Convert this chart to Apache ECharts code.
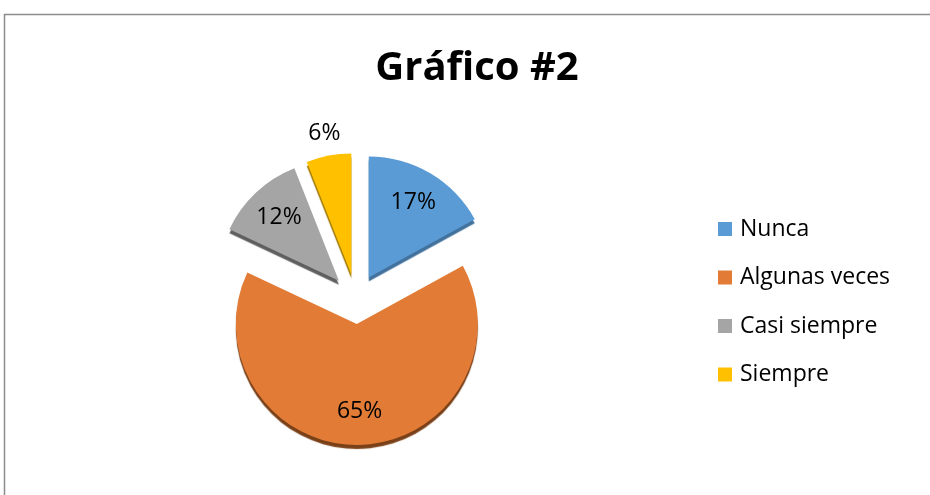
<!DOCTYPE html>
<html>
<head>
<meta charset="utf-8">
<script src="https://cdn.jsdelivr.net/npm/echarts@6/dist/echarts.min.js"></script>
<style>
  html, body { margin: 0; padding: 0; background: #fff; }
  #main { width: 930px; height: 495px; }
</style>
</head>
<body>
<div id="main"></div>
<script>
// datos del gráfico
const categorias = ["Nunca", "Algunas veces", "Casi siempre", "Siempre"];
const valores = [17, 65, 12, 6];
const colores = ["#5B9BD5", "#E27B36", "#A5A5A5", "#FFC000"];
const sombras = ["#41719C", "#7A4018", "#5F5F5F", "#A07800"];
const tituloTexto = "Gráfico #2";

const centro = [356, 299];
const radio = 121;
const desplazamiento = 25;

let myChart = echarts.init(document.getElementById("main"));

let datosPie = categorias.map((c, i) => ({
  name: c,
  value: valores[i],
  selected: true,
  itemStyle: {
    color: colores[i],
    shadowColor: sombras[i],
    shadowOffsetY: 4,
    shadowBlur: 1
  }
}));

// capa transparente solo para las etiquetas interiores
let datosEtiquetas = categorias.map((c, i) => ({
  name: c,
  value: valores[i],
  selected: true,
  label: { show: i !== 3 }
}));

// otra capa para la etiqueta de "Siempre", que va afuera
let datosEtiquetaFuera = categorias.map((c, i) => ({
  name: c,
  value: valores[i],
  selected: true,
  label: { show: i === 3 }
}));

const estiloEtiqueta = {
  position: "inside",
  formatter: "{d}%",
  fontFamily: "Open Sans",
  fontSize: 23,
  color: "#000"
};

myChart.setOption({
  animation: false,
  color: colores,
  title: {
    text: tituloTexto,
    left: 472,
    top: 44,
    textAlign: "center",
    textStyle: {
      fontFamily: "Open Sans",
      fontWeight: "bold",
      fontSize: 40,
      color: "#000"
    }
  },
  legend: {
    orient: "vertical",
    left: 713,
    top: 212,
    itemWidth: 14,
    itemHeight: 14,
    itemGap: 24.5,
    icon: "rect",
    selectedMode: false,
    data: categorias,
    textStyle: {
      fontFamily: "Open Sans",
      fontSize: 23,
      lineHeight: 24,
      color: "#000",
      padding: [0, 0, 0, 3]
    }
  },
  graphic: [
    {
      type: "rect",
      shape: { x: 4.5, y: 14.5, width: 940, height: 500 },
      style: { fill: "none", stroke: "#8C8C8C", lineWidth: 1.5 },
      silent: true
    }
  ],
  series: [
    {
      type: "pie",
      center: centro,
      radius: [0, radio],
      startAngle: 90,
      clockwise: true,
      selectedMode: "multiple",
      selectedOffset: desplazamiento,
      label: { show: false },
      labelLine: { show: false },
      emphasis: { disabled: true },
      data: datosPie
    },
    {
      type: "pie",
      center: centro,
      radius: [50, radio - 2],
      startAngle: 90,
      clockwise: true,
      selectedMode: "multiple",
      selectedOffset: desplazamiento,
      silent: true,
      itemStyle: { color: "rgba(0,0,0,0)" },
      emphasis: { disabled: true },
      label: estiloEtiqueta,
      data: datosEtiquetas
    },
    {
      type: "pie",
      center: centro,
      radius: [130, 152],
      startAngle: 90,
      clockwise: true,
      selectedMode: "multiple",
      selectedOffset: desplazamiento,
      silent: true,
      itemStyle: { color: "rgba(0,0,0,0)" },
      emphasis: { disabled: true },
      label: estiloEtiqueta,
      data: datosEtiquetaFuera
    }
  ]
});
</script>
</body>
</html>
